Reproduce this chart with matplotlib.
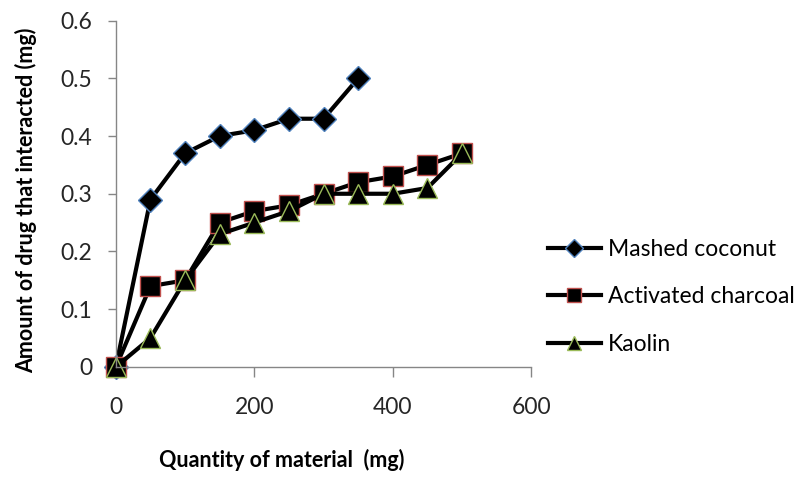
import matplotlib
matplotlib.use('Agg')
from matplotlib import pyplot as plt

plt.rcParams['font.family'] = ['Lato', 'DejaVu Sans']

# data
x_coconut = [0, 50, 100, 150, 200, 250, 300, 350]
y_coconut = [0, 0.29, 0.37, 0.40, 0.41, 0.43, 0.43, 0.50]
x_other = [0, 50, 100, 150, 200, 250, 300, 350, 400, 450, 500]
y_charcoal = [0, 0.14, 0.15, 0.25, 0.27, 0.28, 0.30, 0.32, 0.33, 0.35, 0.37]
y_kaolin = [0, 0.05, 0.15, 0.23, 0.25, 0.27, 0.30, 0.30, 0.30, 0.31, 0.37]
x_ticks = [0, 200, 400, 600]
y_ticks = [0, 0.1, 0.2, 0.3, 0.4, 0.5, 0.6]
y_ticklabels = ['0', '0.1', '0.2', '0.3', '0.4', '0.5', '0.6']

fig = plt.figure(figsize=(8.1, 4.79), dpi=100)
ax = fig.add_axes([0.143, 0.234, 0.513, 0.723])

ax.plot(x_coconut, y_coconut, color='black', linewidth=3, marker='D', markersize=12,
        markerfacecolor='black', markeredgecolor='#4f81bd', markeredgewidth=1,
        label='Mashed coconut', clip_on=False)
ax.plot(x_other, y_charcoal, color='black', linewidth=3, marker='s', markersize=14,
        markerfacecolor='black', markeredgecolor='#c0504d', markeredgewidth=1,
        label='Activated charcoal', clip_on=False)
ax.plot(x_other, y_kaolin, color='black', linewidth=3, marker='^', markersize=14,
        markerfacecolor='black', markeredgecolor='#9bbb59', markeredgewidth=1,
        label='Kaolin', clip_on=False)

ax.set_xlim(0, 600)
ax.set_ylim(0, 0.6)
ax.set_xticks(x_ticks)
ax.set_yticks(y_ticks)
ax.set_yticklabels(y_ticklabels)

for s in ['top', 'right']:
    ax.spines[s].set_visible(False)
for s in ['left', 'bottom']:
    ax.spines[s].set_color('#868686')
    ax.spines[s].set_linewidth(1)
ax.tick_params(axis='both', colors='#868686', labelcolor='#262626', labelsize=16.5,
               width=1)
ax.tick_params(axis='x', pad=15, length=7)
ax.tick_params(axis='y', pad=11, length=6)

ax.set_xlabel('Quantity of material  (mg)', fontsize=15.5, fontweight='bold')
ax.xaxis.set_label_coords(0.398, -0.238)
ax.set_ylabel('Amount of drug that interacted (mg)', fontsize=15.5, fontweight='bold')
ax.yaxis.set_label_coords(-0.19, 0.48)

ax.legend(loc='center left', bbox_to_anchor=(0.676, 0.38), bbox_transform=fig.transFigure,
          frameon=False, fontsize=16.5, borderpad=0, borderaxespad=0,
          handlelength=2.35, handletextpad=0.3, labelspacing=1.15, markerscale=0.75)

fig.savefig('out.png', dpi=100)
